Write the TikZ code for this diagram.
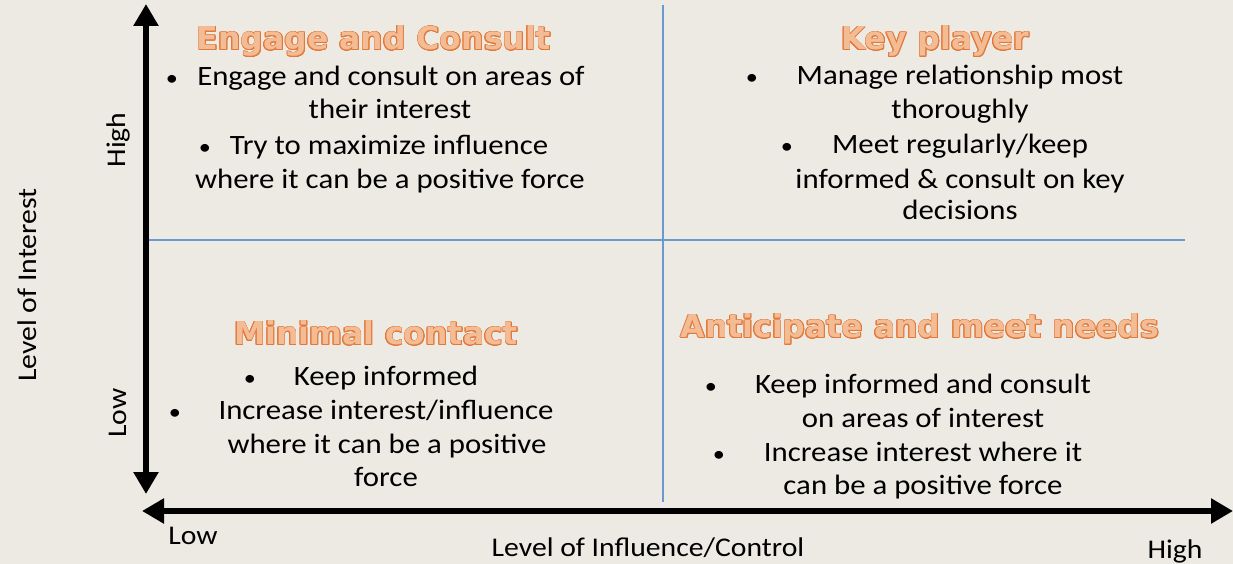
\documentclass[tikz,border=0pt]{standalone}
\usepackage{fontspec}
\setmainfont[FakeStretch=1.1]{Carlito}
\newfontfamily\titlefont{DejaVu Sans}
\usepackage[copies]{contour}
\contourlength{0.75pt}
\usetikzlibrary{arrows.meta}
\definecolor{bgc}{HTML}{ECEAE3}
\definecolor{ordark}{HTML}{E2793A}
\definecolor{orfill}{HTML}{F4BC94}
\definecolor{gridblue}{HTML}{6A98CF}
\tikzset{
  x=1bp, y=-1bp,
  body/.style={anchor=base, inner sep=0pt, font=\fontsize{28bp}{34bp}\selectfont},
  bul/.style={anchor=base, inner sep=0pt, font=\fontsize{22bp}{34bp}\selectfont},
  axlab/.style={inner sep=0pt, font=\fontsize{27bp}{32bp}\selectfont},
  ttl/.style={anchor=base, inner sep=0pt, text=orfill, font=\titlefont\bfseries\fontsize{31.5bp}{38bp}\selectfont},
  axis/.style={line width=6bp, {Triangle[length=22bp,width=24bp]}-{Triangle[length=22bp,width=24bp]}},
  grid/.style={draw=gridblue, line width=1.5bp}
}
\newcommand{\ttltext}[1]{\contour{ordark}{#1}}
\begin{document}
\begin{tikzpicture}
\useasboundingbox (0,0) rectangle (1233,564);
\fill[bgc] (0,0) rectangle (1233,564);
% grid lines
\coordinate (gvt) at (663,5);
\coordinate (gvb) at (663,502);
\coordinate (ghl) at (146,240);
\coordinate (ghr) at (1185,240);
\draw[grid] (gvt) -- (gvb);
\draw[grid] (ghl) -- (ghr);
% axes
\coordinate (vtop) at (146,4);
\coordinate (vbot) at (146,494);
\coordinate (hleft) at (142,511);
\coordinate (hright) at (1233,511);
\draw[axis] (vbot) -- (vtop);
\draw[axis] (hleft) -- (hright);
% axis labels
\node[axlab, rotate=90] (yhigh) at (118,140) {High};
\node[axlab, rotate=90] (ylow) at (118,413) {Low};
\node[axlab, rotate=90] (ytitle) at (27,285) {Level of Interest};
\node[axlab] (xlow) at (193,536) {Low};
\node[axlab] (xtitle) at (648,548) {Level of Influence/Control};
\node[axlab] (xhigh) at (1175,551) {High};
% titles
\node[ttl] (t1) at (374,50) {\ttltext{Engage and Consult}};
\node[ttl] (t2) at (935,50) {\ttltext{Key player}};
\node[ttl] (t3) at (376,345) {\ttltext{Minimal contact}};
\node[ttl] (t4) at (920,338) {\ttltext{Anticipate and meet needs}};
% quadrant 1
\node[bul] (b11) at (172,86) {•};
\node[body] (q11) at (391,86) {Engage and consult on areas of};
\node[body] (q12) at (390,119) {their interest};
\node[bul] (b12) at (205,155) {•};
\node[body] (q13) at (389,155) {Try to maximize influence};
\node[body] (q14) at (390,189) {where it can be a positive force};
% quadrant 2
\node[bul] (b21) at (752,85) {•};
\node[body] (q21) at (960,85) {Manage relationship most};
\node[body] (q22) at (960,119) {thoroughly};
\node[bul] (b22) at (787,154) {•};
\node[body] (q23) at (960,154) {Meet regularly/keep};
\node[body] (q24) at (960,189) {informed \& consult on key};
\node[body] (q25) at (960,220) {decisions};
% quadrant 3
\node[bul] (b31) at (250,385) {•};
\node[body] (q31) at (386,385) {Keep informed};
\node[bul] (b32) at (175,419) {•};
\node[body] (q32) at (386,419) {Increase interest/influence};
\node[body] (q33) at (387,453) {where it can be a positive};
\node[body] (q34) at (386,486) {force};
% quadrant 4
\node[bul] (b41) at (711,393) {•};
\node[body] (q41) at (923,393) {Keep informed and consult};
\node[body] (q42) at (923,427) {on areas of interest};
\node[bul] (b42) at (719,461) {•};
\node[body] (q43) at (923,461) {Increase interest where it};
\node[body] (q44) at (923,494) {can be a positive force};
\end{tikzpicture}
\end{document}
